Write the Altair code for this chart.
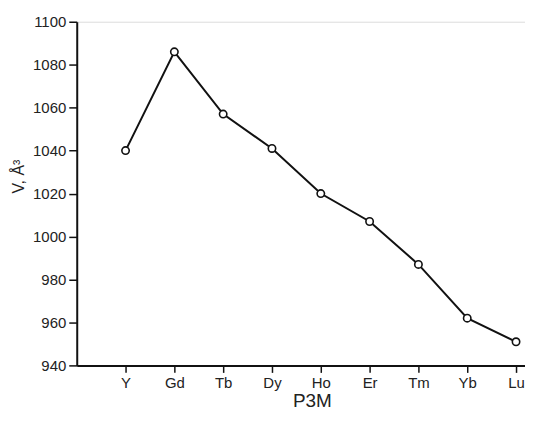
import altair as alt
import pandas as pd

elements = ["Y", "Gd", "Tb", "Dy", "Ho", "Er", "Tm", "Yb", "Lu"]
volumes = [1040, 1086, 1057, 1041, 1020, 1007, 987, 962, 951]
positions = list(range(1, len(elements) + 1))
y_ticks = [940, 960, 980, 1000, 1020, 1040, 1060, 1080, 1100]

df = pd.DataFrame({"pos": positions, "el": elements, "V": volumes})

label_arr = "[" + ",".join(["''"] + [f"'{e}'" for e in elements]) + "]"

FONT = "Liberation Sans"
W, H = 450, 345

x = alt.X(
    "pos:Q",
    scale=alt.Scale(domain=[0, W / 49.0], nice=False, zero=False),
    axis=alt.Axis(
        title="P3M",
        values=positions,
        labelExpr=f"{label_arr}[datum.value]",
        grid=False,
        domainColor="#111",
        domainWidth=2,
        tickColor="#111",
        tickWidth=1.5,
        tickSize=7,
        labelFont=FONT,
        labelFontSize=15,
        labelColor="#222",
        labelPadding=3,
        titleFont=FONT,
        titleFontSize=19,
        titleFontWeight="normal",
        titleColor="#222",
        titleX=236,
        titleY=41,
        titleBaseline="alphabetic",
    ),
)
y = alt.Y(
    "V:Q",
    scale=alt.Scale(domain=[940, 1100], nice=False, zero=False),
    axis=alt.Axis(
        title="V, Å³",
        values=y_ticks,
        format="d",
        grid=False,
        domainColor="#111",
        domainWidth=2,
        tickColor="#111",
        tickWidth=1.5,
        tickSize=8,
        labelFont=FONT,
        labelFontSize=15,
        labelColor="#222",
        labelPadding=3,
        titleFont=FONT,
        titleFontSize=16,
        titleFontWeight="normal",
        titleColor="#222",
        titleX=-53,
        titleY=155,
        titleBaseline="alphabetic",
    ),
)

base = alt.Chart(df)
line = base.mark_line(color="#111", strokeWidth=2).encode(x=x, y=y)
pts = base.mark_point(
    shape="circle", filled=True, fill="white", stroke="#111", strokeWidth=1.6, size=55, opacity=1
).encode(x=x, y=y)

chart = (
    alt.layer(line, pts)
    .properties(
        width=W,
        height=H,
        autosize=alt.AutoSizeParams(type="none"),
        padding={"left": 69, "top": 13, "right": 0, "bottom": 47},
    )
    .configure_view(stroke=None)
    .configure(background="white")
)

chart.save("out.html", embed_options={"renderer": "svg", "actions": False})
